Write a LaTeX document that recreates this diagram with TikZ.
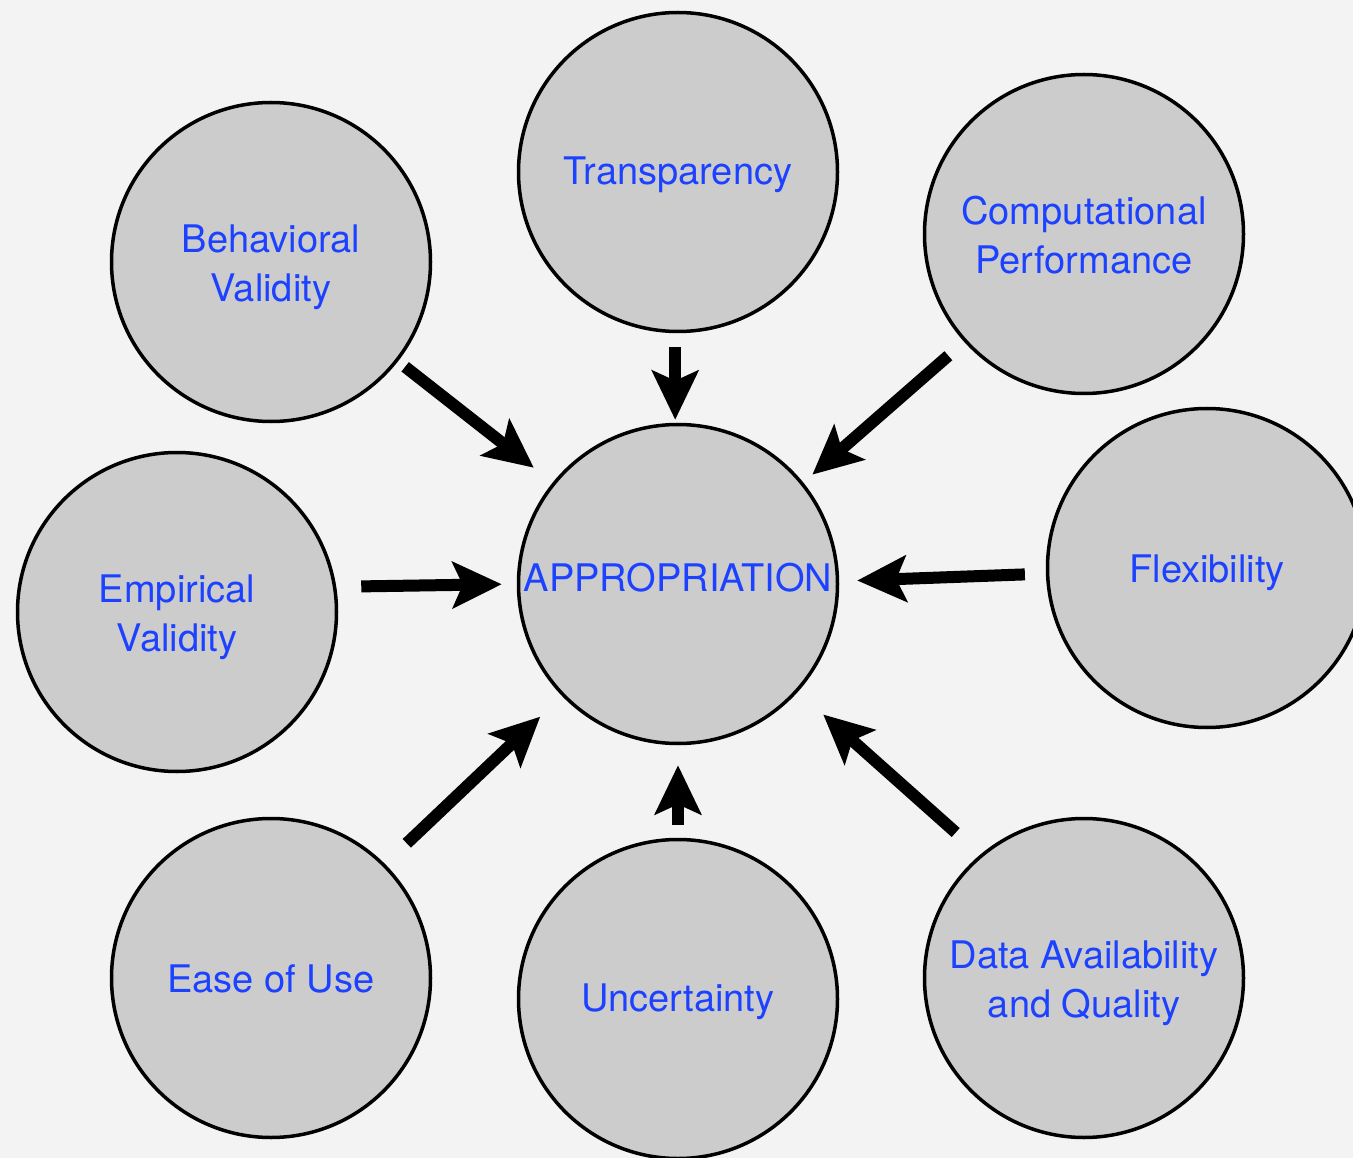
\documentclass[tikz,border=0pt]{standalone}
\usepackage{fontspec}
\setmainfont{TeX Gyre Heros}
\usetikzlibrary{arrows.meta}
\definecolor{bgcol}{HTML}{F3F3F3}
\definecolor{discfill}{HTML}{CCCCCC}
\definecolor{labelblue}{RGB}{28,66,255}
\tikzset{
  disc/.style={circle, draw=black, line width=3.5pt, fill=discfill,
    minimum size=319pt, inner sep=0pt},
  caption/.style={text=labelblue, align=center, inner sep=0pt,
    font=\fontsize{38}{49}\selectfont},
  push/.style={line width=12pt, -{Stealth[length=49pt, width=46pt, inset=10pt]}}
}
\begin{document}
\begin{tikzpicture}[x=1pt, y=-1pt]
  \fill[bgcol] (0,0) rectangle (1353,1158);
  \useasboundingbox (0,0) rectangle (1353,1158);

  % the nine factor discs, captions placed at their centres
  \node[disc, label={[caption, yshift=6.5pt]center:APPROPRIATION}] (app) at (678,584) {};
  \node[disc, label={[caption, yshift=-2.5pt]center:Transparency}] (trans) at (678,172) {};
  \node[disc, label={[caption, yshift=-5pt]center:{Behavioral\\Validity}}] (beh) at (271,262) {};
  \node[disc, label={[caption, yshift=-1pt]center:{Computational\\Performance}}] (comp) at (1084,234) {};
  \node[disc, label={[caption, yshift=-5pt]center:{Empirical\\Validity}}] (emp) at (177,612) {};
  \node[disc, label={[caption, yshift=-5pt]center:Flexibility}] (flex) at (1207,568) {};
  \node[disc, label={[caption, yshift=-0.5pt]center:Ease of Use}] (ease) at (271,978) {};
  \node[disc, label={[caption, yshift=-2.5pt]center:Uncertainty}] (unc) at (678,999) {};
  \node[disc, label={[caption, yshift=-5pt]center:{Data Availability\\and Quality}}] (data) at (1084,978) {};

  % arrows pointing in towards the central disc
  \draw[push, shorten <=9pt,  shorten >=24pt] (beh.-38)   -- (app.141);
  \draw[push, shorten <=14pt, shorten >=3pt]  (trans.-91.5) -- (app.91);
  \draw[push, shorten <=21pt, shorten >=12pt] (comp.-138) -- (app.39);
  \draw[push, shorten <=25pt, shorten >=15pt] (emp.9)     -- (app.180);
  \draw[push, shorten <=21pt, shorten >=18pt] (flex.182)  -- (app.1.3);
  \draw[push, shorten <=30pt, shorten >=30pt] (ease.45.4) -- (app.-136);
  \draw[push, shorten <=13pt, shorten >=20pt] (unc.90)    -- (app.-90);
  \draw[push, shorten <=33pt, shorten >=34pt] (data.130.4) -- (app.-42);
\end{tikzpicture}
\end{document}
